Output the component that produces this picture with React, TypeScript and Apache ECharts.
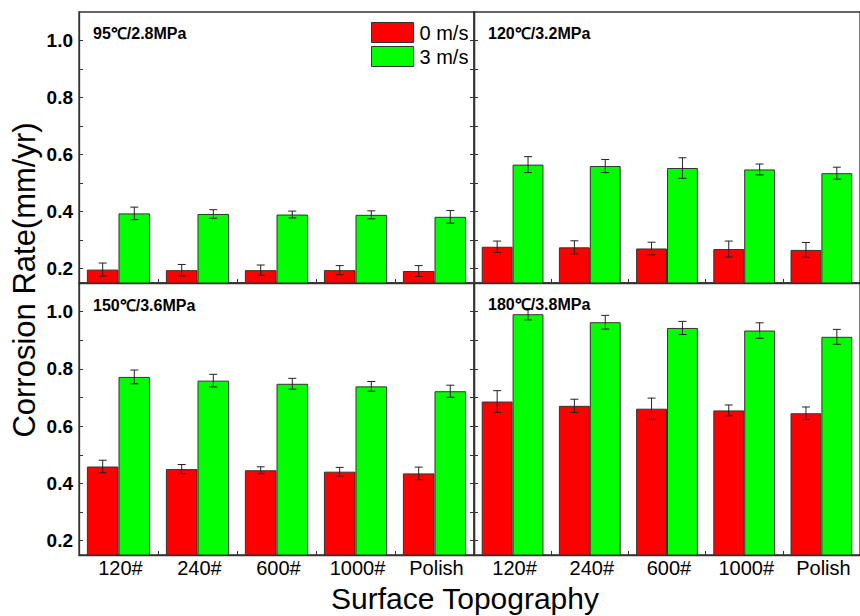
import React, { useEffect, useRef } from "react";
import * as echarts from "echarts";

const categories = ["120#", "240#", "600#", "1000#", "Polish"];
const seriesNames = ["0 m/s", "3 m/s"];
const panelTitles = ["95℃/2.8MPa", "120℃/3.2MPa", "150℃/3.6MPa", "180℃/3.8MPa"];

const rate95_0 = [0.197, 0.195, 0.195, 0.195, 0.192];
const err95_0 = [0.023, 0.02, 0.018, 0.016, 0.019];
const rate95_3 = [0.394, 0.392, 0.39, 0.389, 0.382];
const err95_3 = [0.022, 0.015, 0.012, 0.014, 0.022];

const rate120_0 = [0.277, 0.275, 0.271, 0.269, 0.266];
const err120_0 = [0.02, 0.023, 0.022, 0.028, 0.026];
const rate120_3 = [0.565, 0.56, 0.553, 0.548, 0.535];
const err120_3 = [0.028, 0.023, 0.036, 0.019, 0.021];

const rate150_0 = [0.459, 0.45, 0.446, 0.441, 0.435];
const err150_0 = [0.022, 0.016, 0.012, 0.015, 0.022];
const rate150_3 = [0.772, 0.759, 0.748, 0.739, 0.722];
const err150_3 = [0.024, 0.022, 0.019, 0.017, 0.021];

const rate180_0 = [0.686, 0.671, 0.661, 0.655, 0.645];
const err180_0 = [0.038, 0.023, 0.037, 0.019, 0.022];
const rate180_3 = [0.991, 0.963, 0.943, 0.934, 0.912];
const err180_3 = [0.02, 0.024, 0.023, 0.027, 0.026];

const yMajorTicks = [0.2, 0.4, 0.6, 0.8, 1.0];
const yAllTicks = [0.2, 0.3, 0.4, 0.5, 0.6, 0.7, 0.8, 0.9, 1.0];

const panels = [
  { v0: rate95_0, e0: err95_0, v3: rate95_3, e3: err95_3 },
  { v0: rate120_0, e0: err120_0, v3: rate120_3, e3: err120_3 },
  { v0: rate150_0, e0: err150_0, v3: rate150_3, e3: err150_3 },
  { v0: rate180_0, e0: err180_0, v3: rate180_3, e3: err180_3 },
];

const FONT = 'Arial, "Liberation Sans", sans-serif';
const AXIS = "#333";
const RED = "#ff0000";
const GREEN = "#00ff00";

const grids = [
  { left: 79, top: 12, width: 395, height: 271 },
  { left: 474, top: 12, width: 396, height: 271 },
  { left: 79, top: 283, width: 395, height: 272 },
  { left: 474, top: 283, width: 396, height: 272 },
];

const titlePos = [
  [93, 33],
  [488, 33],
  [93, 305],
  [488, 304],
];

function buildOption() {
  const xAxis: any[] = [];
  const yAxis: any[] = [];
  const series: any[] = [];
  const graphic: any[] = [];

  grids.forEach((g, i) => {
    const isBottom = i >= 2;
    const isLeft = i % 2 === 0;
    xAxis.push({
      type: "category",
      gridIndex: i,
      data: categories,
      axisLine: { show: true, lineStyle: { color: AXIS, width: 1.3 } },
      axisTick: { show: true, inside: true, length: 4, alignWithLabel: false, lineStyle: { color: AXIS } },
      axisLabel: {
        show: isBottom,
        color: "#000",
        fontSize: 20,
        fontFamily: FONT,
        margin: 3,
        padding: [0, 0, 0, 4],
      },
      splitLine: { show: false },
    });
    const yLeftIdx = yAxis.length;
    yAxis.push({
      type: "value",
      gridIndex: i,
      min: 0.15,
      max: 1.1,
      position: "left",
      axisLine: { show: true, lineStyle: { color: AXIS, width: 1.3 } },
      axisTick: { show: true, inside: true, length: 4, customValues: yAllTicks, lineStyle: { color: AXIS } },
      axisLabel: {
        show: isLeft,
        customValues: yMajorTicks,
        formatter: (v: number) => v.toFixed(1),
        color: "#000",
        fontWeight: "bold",
        fontSize: 19,
        fontFamily: FONT,
        margin: 6,
      },
      splitLine: { show: false },
    });
    if (isLeft) {
      yAxis.push({
        type: "value",
        gridIndex: i,
        min: 0.15,
        max: 1.1,
        position: "right",
        axisLine: { show: true, lineStyle: { color: AXIS, width: 1.3 } },
        axisTick: { show: true, inside: true, length: 4, customValues: yAllTicks, lineStyle: { color: AXIS } },
        axisLabel: { show: false },
        splitLine: { show: false },
      });
    }
    const p = panels[i];
    const sets = [
      { name: seriesNames[0], vals: p.v0, errs: p.e0, color: RED, sign: -1 },
      { name: seriesNames[1], vals: p.v3, errs: p.e3, color: GREEN, sign: 1 },
    ];
    sets.forEach((s) => {
      series.push({
        type: "bar",
        name: s.name,
        xAxisIndex: i,
        yAxisIndex: yLeftIdx,
        data: s.vals,
        barWidth: "40%",
        barGap: "0%",
        itemStyle: { color: s.color, borderColor: AXIS, borderWidth: 1 },
        z: 2,
      });
    });
    sets.forEach((s) => {
      series.push({
        type: "custom",
        name: s.name + " err",
        xAxisIndex: i,
        yAxisIndex: yLeftIdx,
        z: 5,
        data: s.vals.map((v, k) => [k, v - s.errs[k], v + s.errs[k]]),
        encode: { x: 0, y: [1, 2] },
        renderItem: (params: any, api: any) => {
          const k = api.value(0);
          const lo = api.coord([k, api.value(1)]);
          const hi = api.coord([k, api.value(2)]);
          const band = api.size([1, 0])[0];
          const x = lo[0] + s.sign * band * 0.2;
          const cap = 4;
          const style = { stroke: "#222", lineWidth: 1 };
          return {
            type: "group",
            children: [
              { type: "line", shape: { x1: x, y1: lo[1], x2: x, y2: hi[1] }, style },
              { type: "line", shape: { x1: x - cap, y1: lo[1], x2: x + cap, y2: lo[1] }, style },
              { type: "line", shape: { x1: x - cap, y1: hi[1], x2: x + cap, y2: hi[1] }, style },
            ],
          };
        },
      });
    });
    graphic.push({
      type: "text",
      x: titlePos[i][0],
      y: titlePos[i][1],
      z: 10,
      style: {
        text: panelTitles[i],
        fontSize: 16,
        fontWeight: "bold",
        fontFamily: FONT,
        fill: "#000",
        align: "left",
        verticalAlign: "middle",
      },
    });
  });

  graphic.push({
    type: "text",
    x: 24,
    y: 280,
    rotation: Math.PI / 2,
    style: {
      text: "Corrosion Rate(mm/yr)",
      fontSize: 31,
      fontFamily: FONT,
      fill: "#000",
      align: "center",
      verticalAlign: "middle",
    },
  });
  graphic.push({
    type: "text",
    x: 465,
    y: 598,
    style: {
      text: "Surface Topography",
      fontSize: 30,
      fontFamily: FONT,
      fill: "#000",
      align: "center",
      verticalAlign: "middle",
    },
  });

  return {
    animation: false,
    backgroundColor: "#fff",
    grid: grids.map((g) => ({ ...g, show: true, borderColor: AXIS, borderWidth: 1.3, backgroundColor: "transparent" })),
    xAxis,
    yAxis,
    legend: {
      data: seriesNames,
      orient: "vertical",
      left: 371,
      top: 22,
      itemWidth: 42,
      itemHeight: 20,
      itemGap: 3,
      icon: "rect",
      padding: 0,
      itemStyle: { borderColor: AXIS, borderWidth: 1 },
      textStyle: { fontSize: 20, fontFamily: FONT, color: "#000", padding: [0, 0, 0, 1] },
    },
    series,
    graphic,
  };
}

export default function App() {
  const ref = useRef<HTMLDivElement>(null);
  useEffect(() => {
    if (!ref.current) return;
    const chart = echarts.init(ref.current, undefined, { renderer: "svg" });
    chart.setOption(buildOption() as any);
    return () => chart.dispose();
  }, []);
  return (
    <div
      ref={ref}
      style={{ position: "absolute", left: 0, top: 0, width: 860, height: 616, overflow: "hidden" }}
    />
  );
}
